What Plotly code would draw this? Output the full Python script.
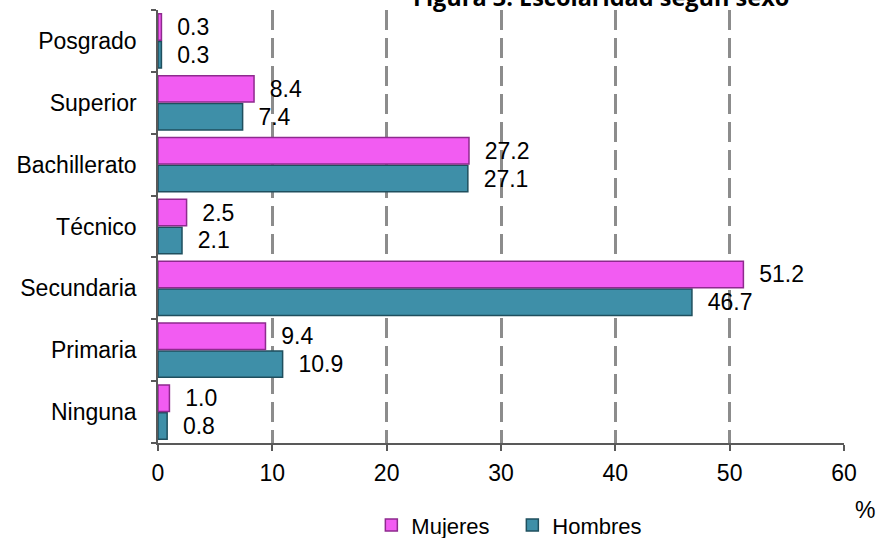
import plotly.graph_objects as go

categorias = ["Ninguna", "Primaria", "Secundaria", "Técnico", "Bachillerato", "Superior", "Posgrado"]
mujeres = [1.0, 9.4, 51.2, 2.5, 27.2, 8.4, 0.3]
hombres = [0.8, 10.9, 46.7, 2.1, 27.1, 7.4, 0.3]
ticks_x = [0, 10, 20, 30, 40, 50, 60]

fnt = "Liberation Sans, Arial, sans-serif"
FS = 23

fig = go.Figure()
fig.add_trace(go.Bar(
    y=categorias, x=hombres, orientation="h", name="Hombres",
    marker=dict(color="#3E8FA8", line=dict(color="#1F4F5E", width=1.5)),
    text=[f"{v:.1f}" for v in hombres], textposition="outside",
    texttemplate="  %{text}", cliponaxis=False,
    textfont=dict(size=FS, color="black", family=fnt),
    legendrank=2,
))
fig.add_trace(go.Bar(
    y=categorias, x=mujeres, orientation="h", name="Mujeres",
    marker=dict(color="#F25CF2", line=dict(color="#8E2A8E", width=1.5)),
    text=[f"{v:.1f}" for v in mujeres], textposition="outside",
    texttemplate="  %{text}", cliponaxis=False,
    textfont=dict(size=FS, color="black", family=fnt),
    legendrank=1,
))

fig.update_layout(
    width=877, height=538,
    margin=dict(l=158, r=33, t=10, b=95, autoexpand=False),
    paper_bgcolor="white", plot_bgcolor="white",
    barmode="group", bargap=0.1, bargroupgap=0.05,
    font=dict(family=fnt, size=FS, color="black"),
    showlegend=True,
    legend=dict(orientation="h", x=0.311, xanchor="left", y=-0.19, yanchor="middle",
                font=dict(size=22), itemwidth=30, entrywidth=96, traceorder="normal"),
    xaxis=dict(range=[0, 60], tickvals=ticks_x, showgrid=True, gridcolor="#8C8C8C",
               griddash="20px,8px", gridwidth=2.5, showline=True, linecolor="#595959",
               linewidth=1.5, ticks="outside", ticklen=6, tickwidth=1.5, tickcolor="#595959",
               ticklabelstandoff=3,
               zeroline=False, tickfont=dict(size=FS), fixedrange=True, automargin=False),
    yaxis=dict(showline=True, linecolor="#595959", linewidth=1.5, ticks="outside",
               tickson="boundaries", ticklen=5, tickcolor="#595959", tickwidth=1.5,
               ticklabelstandoff=15,
               tickfont=dict(size=FS), showgrid=False, fixedrange=True, automargin=False),
    annotations=[
        dict(text="<b>Figura 3. Escolaridad según sexo</b>", xref="paper", yref="paper",
             x=0.646, y=1, xanchor="center", yanchor="middle", yshift=13, showarrow=False,
             font=dict(size=23.5, family="Open Sans, Liberation Sans, sans-serif")),
        dict(text="%", xref="paper", yref="paper", x=1.048, y=0, xanchor="right",
             yanchor="middle", yshift=-67, showarrow=False, font=dict(size=FS)),
    ],
)

fig.write_html("out.html", config={"displayModeBar": False},
               post_script="document.body.style.margin='0';document.body.style.overflow='hidden';")
